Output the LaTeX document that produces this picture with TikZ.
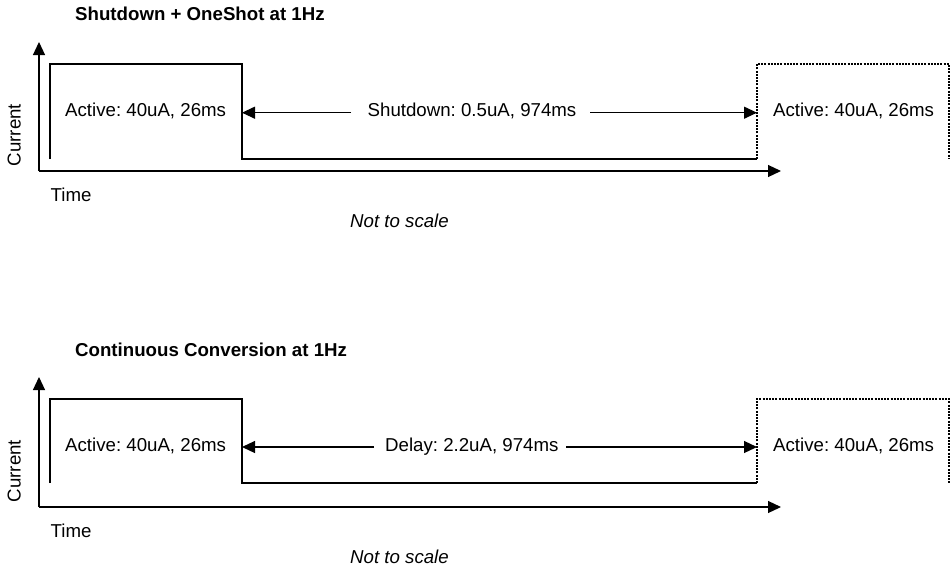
\documentclass[tikz,border=0pt]{standalone}
\usepackage{fontspec}
\setmainfont{Liberation Sans}
\usetikzlibrary{arrows.meta}
\frenchspacing
\begin{document}
\begin{tikzpicture}[x=1pt,y=-1pt,
  every node/.style={inner sep=0pt,font=\fontsize{18.67}{22}\selectfont},
  txt/.style={anchor=base west},
  ttl/.style={anchor=base west,font=\fontsize{18.67}{22}\selectfont\bfseries},
  ital/.style={anchor=base west,font=\fontsize{18.67}{22}\selectfont\itshape},
  curlabel/.style={anchor=base,rotate=90},
  axis/.style={line width=1.2pt,-{Triangle[length=13pt,width=12pt]}},
  wave/.style={line width=1.2pt},
  dotwave/.style={line width=1.1pt,dash pattern=on 2pt off 1.2pt},
  dim/.style={line width=1.2pt,-{Triangle[length=13pt,width=12pt]}}]
\useasboundingbox (0,0) rectangle (950,568);
\fill[white] (0,0) rectangle (950,568);

% ---------- top diagram ----------
\node[ttl] (t1) at (75,20.7) {Shutdown + OneShot at 1Hz};
\coordinate (o1) at (39,171);
\coordinate (ya1) at (39,42);
\coordinate (xa1) at (781,171);
\draw[axis] (o1) -- (ya1);
\draw[axis] (o1) -- (xa1);
\node[curlabel] (c1) at (20.7,135) {Current};
\node[txt] (time1) at (50.5,201.7) {Time};
\node[ital] (ns1) at (350,227.3) {Not to scale};

\coordinate (w1a) at (50,159);
\coordinate (w1b) at (50,64);
\coordinate (w1c) at (242,64);
\coordinate (w1d) at (242,159);
\coordinate (w1e) at (757,159);
\coordinate (w1f) at (757,64);
\coordinate (w1g) at (949,64);
\coordinate (w1h) at (949,159);
\draw[wave] (w1a) -- (w1b) -- (w1c) -- (w1d) -- (w1e);
\draw[dotwave] (w1e) -- (w1f) -- (w1g) -- (w1h);

\node[txt] (a1l) at (65,116) {Active: 40uA, 26ms};
\node[txt] (a1r) at (773,116) {Active: 40uA, 26ms};
\node[txt] (s1) at (367.5,116) {Shutdown: 0.5uA, 974ms};
\coordinate (d1l) at (351,112.7);
\coordinate (d1lt) at (242,112.7);
\coordinate (d1r) at (590,112.7);
\coordinate (d1rt) at (757,112.7);
\draw[dim] (d1l) -- (d1lt);
\draw[dim] (d1r) -- (d1rt);

% ---------- bottom diagram ----------
\node[ttl] (t2) at (75,356.7) {Continuous Conversion at 1Hz};
\coordinate (o2) at (39,507);
\coordinate (ya2) at (39,377);
\coordinate (xa2) at (781,507);
\draw[axis] (o2) -- (ya2);
\draw[axis] (o2) -- (xa2);
\node[curlabel] (c2) at (20.7,471) {Current};
\node[txt] (time2) at (50.5,537.7) {Time};
\node[ital] (ns2) at (350,563.3) {Not to scale};

\coordinate (w2a) at (50,483);
\coordinate (w2b) at (50,399);
\coordinate (w2c) at (242,399);
\coordinate (w2d) at (242,483);
\coordinate (w2e) at (757,483);
\coordinate (w2f) at (757,399);
\coordinate (w2g) at (949,399);
\coordinate (w2h) at (949,483);
\draw[wave] (w2a) -- (w2b) -- (w2c) -- (w2d) -- (w2e);
\draw[dotwave] (w2e) -- (w2f) -- (w2g) -- (w2h);

\node[txt] (a2l) at (65,451.7) {Active: 40uA, 26ms};
\node[txt] (a2r) at (773,451.7) {Active: 40uA, 26ms};
\node[txt] (s2) at (385,451.7) {Delay: 2.2uA, 974ms};
\coordinate (d2l) at (374,447);
\coordinate (d2lt) at (242,447);
\coordinate (d2r) at (566,447);
\coordinate (d2rt) at (757,447);
\draw[dim] (d2l) -- (d2lt);
\draw[dim] (d2r) -- (d2rt);
\end{tikzpicture}
\end{document}
